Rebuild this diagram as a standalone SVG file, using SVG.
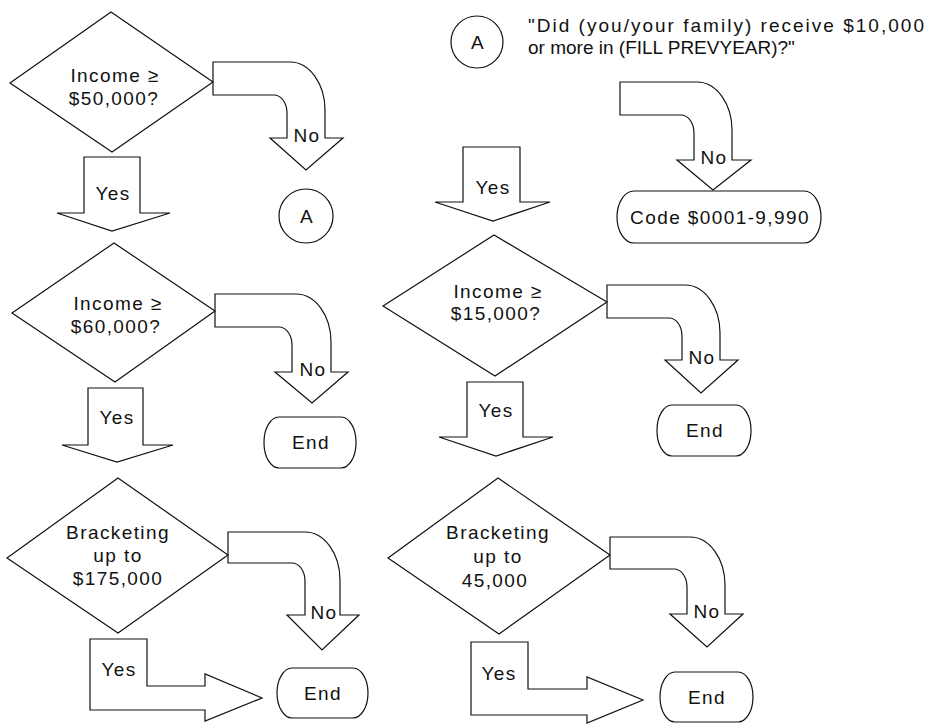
<svg xmlns="http://www.w3.org/2000/svg" width="926" height="724" viewBox="0 0 926 724">
<style>
.s{fill:#fff;stroke:#111;stroke-width:1.2;stroke-linejoin:miter}
.t{font-family:"Liberation Sans",Arial,sans-serif;font-size:19px;fill:#111;text-anchor:middle;letter-spacing:1.4px}
.q{font-family:"Liberation Sans",Arial,sans-serif;font-size:19px;fill:#111}
</style>
<rect width="926" height="724" fill="#fff"/>
<g id="connectors">
<path class="s" d="M213,62 H290 A35,48 0 0 1 325,110 V138 H343 L306,170 L270,138 H287 V113 A13,18 0 0 0 274,95 H213 Z"/>
<text class="t" x="307" y="142">No</text>
<path class="s" d="M215,294 H296 A35,48 0 0 1 331,342 V372 H348 L312,403 L275,372 H292 V345 A13,18 0 0 0 279,327 H215 Z"/>
<text class="t" x="313" y="376">No</text>
<path class="s" d="M228,532 H305 A35,48 0 0 1 340,580 V615 H359 L322,650 L287,615 H305 V581 A13,18 0 0 0 292,563 H228 Z"/>
<text class="t" x="324" y="619">No</text>
<path class="s" d="M607,285 H685 A35,48 0 0 1 720,333 V360 H738 L701,393 L665,360 H682 V336 A13,18 0 0 0 669,318 H607 Z"/>
<text class="t" x="702" y="364">No</text>
<path class="s" d="M610,537 H690 A35,48 0 0 1 725,585 V614 H743 L707,647 L670,614 H687 V587 A13,18 0 0 0 674,569 H610 Z"/>
<text class="t" x="707" y="618">No</text>
<path class="s" d="M620,82 H697 A35,48 0 0 1 732,130 V160 H751 L713,190 L677,160 H694 V133 A13,18 0 0 0 681,115 H620 Z"/>
<text class="t" x="714" y="164">No</text>
<path class="s" d="M84,157 H140 V213 H170 L112,231 L57,213 H84 Z"/>
<text class="t" x="113" y="200">Yes</text>
<path class="s" d="M88,388 H143 V445 H173 L117,462 L62,445 H88 Z"/>
<text class="t" x="117" y="424">Yes</text>
<path class="s" d="M463,147 H520 V202 H550 L493,221 L435,202 H463 Z"/>
<text class="t" x="493" y="194">Yes</text>
<path class="s" d="M467,382 H523 V437 H553 L496,456 L439,437 H467 Z"/>
<text class="t" x="496" y="417">Yes</text>
<path class="s" d="M90,639 H147 V686 H205 V674 L262,698 L205,721 V710 H90 Z"/>
<text class="t" x="119" y="676">Yes</text>
<path class="s" d="M471,642 H528 V689 H587 V677 L643,700 L587,723 V715 H471 Z"/>
<text class="t" x="499" y="680">Yes</text>
</g>
<g id="d1"><path class="s" d="M10,83 L111,12 L213,82 L112,152 Z"/><text class="t" x="115" y="82">Income ≥</text><text class="t" x="114" y="105">$50,000?</text></g>
<g id="d2"><path class="s" d="M12,313 L114,243 L215,311 L115,382 Z"/><text class="t" x="118" y="310">Income ≥</text><text class="t" x="116" y="333">$60,000?</text></g>
<g id="d3"><path class="s" d="M7,558 L118,478 L228,555 L118,633 Z"/><text class="t" x="118" y="539">Bracketing</text><text class="t" x="118" y="562">up to</text><text class="t" x="118" y="585">$175,000</text></g>
<g id="d4"><path class="s" d="M383,306 L494,235 L607,302 L495,376 Z"/><text class="t" x="498" y="298">Income ≥</text><text class="t" x="496" y="320">$15,000?</text></g>
<g id="d5"><path class="s" d="M388,558 L498,478 L610,555 L499,634 Z"/><text class="t" x="498" y="539">Bracketing</text><text class="t" x="498" y="563">up to</text><text class="t" x="495" y="587">45,000</text></g>
<g id="a1"><circle class="s" cx="306" cy="216" r="27"/><text class="t" x="307" y="223">A</text></g>
<g id="a0"><circle class="s" cx="477" cy="42" r="26"/><text class="t" x="478" y="49">A</text></g>
<g id="question"><text class="q" x="528" y="32" font-size="20" textLength="396" lengthAdjust="spacing">"Did (you/your family) receive $10,000</text><text class="q" x="528" y="54">or more in (FILL PREVYEAR)?"</text></g>
<g id="code"><rect class="s" x="617" y="191" width="204" height="52" rx="17" ry="26"/><text class="t" x="720" y="224">Code $0001-9,990</text></g>
<g id="e2"><rect class="s" x="264" y="417" width="92" height="51" rx="15" ry="25"/><text class="t" x="311" y="449">End</text></g>
<g id="e4"><rect class="s" x="657" y="405" width="94" height="51" rx="15" ry="25"/><text class="t" x="705" y="437">End</text></g>
<g id="e3"><rect class="s" x="277" y="668" width="91" height="50" rx="15" ry="25"/><text class="t" x="323" y="700">End</text></g>
<g id="e5"><rect class="s" x="660" y="672" width="93" height="50" rx="15" ry="25"/><text class="t" x="707" y="704">End</text></g>
</svg>
